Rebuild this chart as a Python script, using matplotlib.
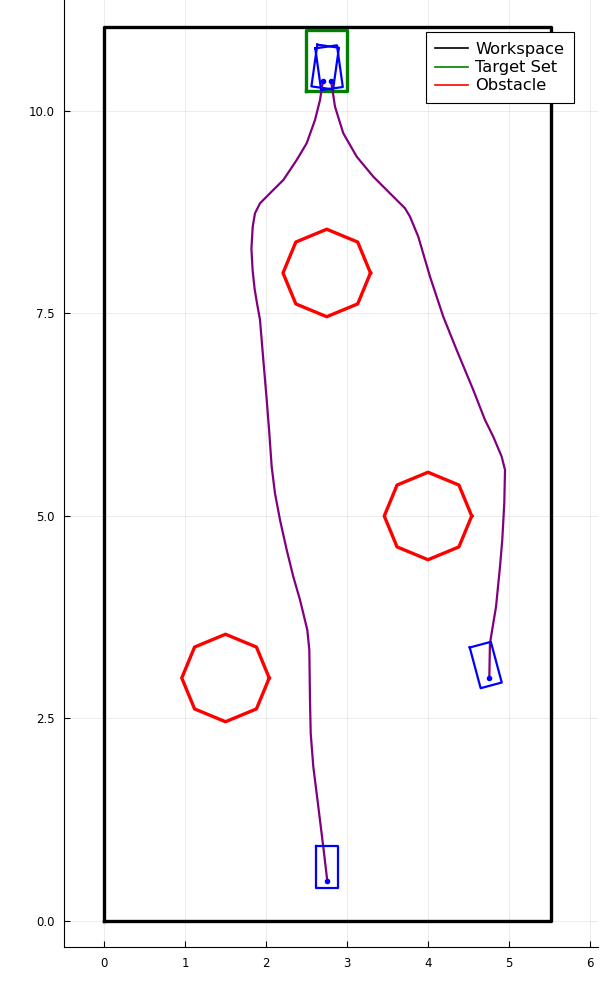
import numpy as np
from matplotlib import pyplot as plt

# workspace / target set (x0, x1, y0, y1)
workspace = [0.0, 5.52, 0.0, 11.04]
target_set = [2.5, 3.0, 10.25, 11.0]

# octagonal obstacles
obstacle_cx = [2.75, 4.0, 1.5]
obstacle_cy = [8.0, 5.0, 3.0]
obstacle_r = 0.54

# trajectory from start (2.75, 0.5)
traj1_x = [2.757, 2.707, 2.646, 2.584, 2.552, 2.543, 2.535, 2.51, 2.46, 2.42,
           2.337, 2.256, 2.173, 2.111, 2.07, 2.041, 2.009, 1.967, 1.926, 1.89,
           1.86, 1.835, 1.82, 1.836, 1.864, 1.926, 2.049, 2.214, 2.379, 2.502,
           2.605, 2.667, 2.695, 2.707]
traj1_y = [0.494, 0.917, 1.41, 1.905, 2.317, 2.728, 3.346, 3.593, 3.80, 3.963,
           4.251, 4.58, 4.951, 5.28, 5.609, 6.021, 6.432, 6.926, 7.42, 7.62,
           7.80, 8.03, 8.30, 8.572, 8.737, 8.86, 8.984, 9.148, 9.395, 9.601,
           9.889, 10.136, 10.321, 10.374]

# trajectory from start (4.75, 3.0)
traj2_x = [4.757, 4.765, 4.84, 4.889, 4.917, 4.942, 4.951, 4.91, 4.806, 4.704,
           4.559, 4.354, 4.189, 4.025, 3.88, 3.778, 3.716, 3.572, 3.325, 3.12,
           2.954, 2.852, 2.811, 2.802]
traj2_y = [2.996, 3.428, 3.88, 4.374, 4.704, 5.16, 5.568, 5.732, 5.979, 6.185,
           6.556, 7.049, 7.46, 7.954, 8.448, 8.695, 8.799, 8.942, 9.189, 9.436,
           9.725, 10.053, 10.321, 10.366]

# robot poses drawn as boxes: start and end of each run
robot_x = [2.757, 4.757, 2.707, 2.802]
robot_y = [0.494, 2.996, 10.374, 10.366]
robot_heading = [90.0, 105.0, 82.0, 98.0]
robot_front, robot_rear, robot_half_w = 0.43, 0.09, 0.135

purple = "#800080"

fig = plt.figure(figsize=(6.04, 9.99), dpi=100)
ax = fig.add_axes([64 / 604, 52 / 999, 534 / 604, 947 / 999])

x0, x1, y0, y1 = workspace
ax.plot([x0, x1, x1, x0, x0], [y0, y0, y1, y1, y0], color="black", lw=2.4,
        label="Workspace", zorder=3)
x0, x1, y0, y1 = target_set
ax.plot([x0, x1, x1, x0, x0], [y0, y0, y1, y1, y0], color="#008000", lw=2.4,
        label="Target Set", zorder=3)

ang = np.deg2rad(np.arange(0, 405, 45))
for i, (cx, cy) in enumerate(zip(obstacle_cx, obstacle_cy)):
    ax.plot(cx + obstacle_r * np.cos(ang), cy + obstacle_r * np.sin(ang),
            color="red", lw=2.4, label="Obstacle" if i == 0 else None, zorder=3)

ax.plot(traj1_x, traj1_y, color=purple, lw=1.6, zorder=4)
ax.plot(traj2_x, traj2_y, color=purple, lw=1.6, zorder=4)

box_u = np.array([robot_front, robot_front, -robot_rear, -robot_rear, robot_front])
box_v = np.array([robot_half_w, -robot_half_w, -robot_half_w, robot_half_w, robot_half_w])
for px, py, hd in zip(robot_x, robot_y, robot_heading):
    t = np.deg2rad(hd)
    bx = px + box_u * np.cos(t) - box_v * np.sin(t)
    by = py + box_u * np.sin(t) + box_v * np.cos(t)
    ax.plot(bx, by, color="blue", lw=1.6, zorder=5)
    ax.plot(px, py, "o", color="blue", ms=3, zorder=5)

ax.set_xlim(-0.494, 6.099)
ax.set_ylim(-0.321, 11.37)
ax.set_xticks(range(7))
ax.set_yticks([0, 2.5, 5, 7.5, 10])
ax.set_yticklabels(["0.0", "2.5", "5.0", "7.5", "10.0"])
ax.tick_params(direction="in", length=4, labelsize=8.5, pad=7)
ax.grid(True, color="black", alpha=0.08, lw=0.7)
ax.spines["top"].set_visible(False)
ax.spines["right"].set_visible(False)

leg = ax.legend(loc="upper right", bbox_to_anchor=(0.955, 0.966), fontsize=11.7,
                frameon=True, fancybox=False, framealpha=1, edgecolor="black",
                handlelength=2.0, handletextpad=0.45, borderpad=0.6,
                labelspacing=0.2, borderaxespad=0)
leg.get_frame().set_linewidth(0.8)
for line in leg.get_lines():
    line.set_linewidth(1.2)

fig.savefig("out.png", dpi=100)
